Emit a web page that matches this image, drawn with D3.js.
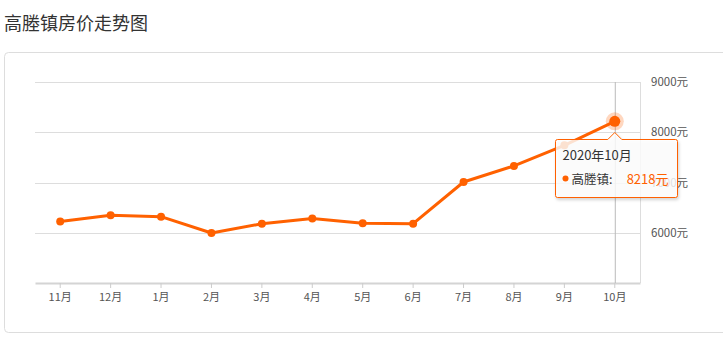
<!DOCTYPE html>
<html><head><meta charset="utf-8">
<script src="https://cdn.jsdelivr.net/npm/d3@7"></script>
<style>
body{margin:0;background:#fff;font-family:"Noto Sans CJK SC","Noto Sans",sans-serif;}
</style></head>
<body><svg id="c" width="723" height="344"></svg>
<script>
const title = "高塍镇房价走势图";
const seriesName = "高塍镇";
const months = ["11月","12月","1月","2月","3月","4月","5月","6月","7月","8月","9月","10月"];
const prices = [6225,6350,6320,5995,6180,6285,6190,6180,7010,7330,7740,8218];
const yTicks = [6000,7000,8000,9000];
const tooltipTitle = "2020年10月";
const hlIndex = 11;

const svg = d3.select("#c");
const orange = "#ff6100";
const fontF = '"Noto Sans CJK SC","Noto Sans",sans-serif';

svg.append("text").attr("x",4).attr("y",30).text(title)
  .attr("font-size",18).attr("fill","#333").attr("font-family",fontF);

svg.append("rect").attr("x",4.5).attr("y",52.5).attr("width",740).attr("height",280)
  .attr("rx",4).attr("fill","none").attr("stroke","#ddd");

const L=35, R=640, T=82, B=283;
const x = d3.scaleBand().domain(months).range([L,R]);
const y = d3.scaleLinear().domain([5000,9000]).range([B,T]);

// grid
svg.append("g").selectAll("line").data(yTicks).join("line")
  .attr("x1",L).attr("x2",R).attr("y1",d=>Math.round(y(d))+0.5).attr("y2",d=>Math.round(y(d))+0.5)
  .attr("stroke","#ddd");
svg.append("line").attr("x1",R+0.5).attr("x2",R+0.5).attr("y1",T).attr("y2",B).attr("stroke","#ddd");

// y labels
svg.append("g").selectAll("text").data(yTicks).join("text")
  .attr("x",651).attr("y",d=>y(d)+4).text(d=>d+"元")
  .attr("font-size",11.5).attr("fill","#555").attr("font-family",fontF);

// x axis
const xa = svg.append("g").attr("transform",`translate(0,${B})`)
  .call(d3.axisBottom(x).tickSize(5).tickSizeOuter(0).tickPadding(5));
xa.select(".domain").attr("stroke","#d4d4d4").attr("stroke-width",2);
xa.selectAll(".tick line").attr("stroke","#ccc");
xa.selectAll(".tick text").attr("font-size",11).attr("fill","#555").attr("font-family",fontF);

const cx = d=>x(d)+x.bandwidth()/2;

// crosshair
svg.append("line").attr("x1",cx(months[hlIndex])+0.5).attr("x2",cx(months[hlIndex])+0.5)
  .attr("y1",T).attr("y2",B).attr("stroke","#bbb");

// line
const data = months.map((m,i)=>({m,v:prices[i]}));
svg.append("path").datum(data)
  .attr("d",d3.line().x(d=>cx(d.m)).y(d=>y(d.v)))
  .attr("fill","none").attr("stroke",orange).attr("stroke-width",3).attr("stroke-linejoin","round");
svg.append("g").selectAll("circle").data(data.filter((d,i)=>i!==hlIndex)).join("circle")
  .attr("cx",d=>cx(d.m)).attr("cy",d=>y(d.v)).attr("r",4).attr("fill",orange);
const hd = data[hlIndex];
svg.append("circle").attr("cx",cx(hd.m)).attr("cy",y(hd.v)).attr("r",9).attr("fill",orange).attr("fill-opacity",0.25);
svg.append("circle").attr("cx",cx(hd.m)).attr("cy",y(hd.v)).attr("r",5.5).attr("fill",orange);

// tooltip
const px = cx(hd.m), py = y(hd.v);
const bx=555.5, by=139.5, bw=122, bh=58;
const defs = svg.append("defs");
const f = defs.append("filter").attr("id","sh").attr("x","-20%").attr("y","-20%").attr("width","140%").attr("height","150%");
f.append("feDropShadow").attr("dx",1).attr("dy",2).attr("stdDeviation",1.5).attr("flood-color","#000").attr("flood-opacity",0.2);
const tp = d3.path();
const r=2;
tp.moveTo(bx+r,by);
tp.lineTo(px-7,by); tp.lineTo(px,by-7); tp.lineTo(px+7,by);
tp.lineTo(bx+bw-r,by); tp.quadraticCurveTo(bx+bw,by,bx+bw,by+r);
tp.lineTo(bx+bw,by+bh-r); tp.quadraticCurveTo(bx+bw,by+bh,bx+bw-r,by+bh);
tp.lineTo(bx+r,by+bh); tp.quadraticCurveTo(bx,by+bh,bx,by+bh-r);
tp.lineTo(bx,by+r); tp.quadraticCurveTo(bx,by,bx+r,by); tp.closePath();
svg.append("path").attr("d",tp.toString()).attr("fill","#fff").attr("fill-opacity",0.8)
  .attr("stroke",orange).attr("stroke-width",1).attr("filter","url(#sh)");
svg.append("text").attr("x",bx+7).attr("y",by+20).text(tooltipTitle)
  .attr("font-size",13).attr("fill","#333").attr("font-family",fontF);
svg.append("circle").attr("cx",bx+10).attr("cy",by+39).attr("r",3).attr("fill",orange);
svg.append("text").attr("x",bx+16).attr("y",by+44).text(seriesName+":")
  .attr("font-size",12.5).attr("fill","#333").attr("font-family",fontF);
svg.append("text").attr("x",bx+bw-9).attr("y",by+44).attr("text-anchor","end").text(hd.v+"元")
  .attr("font-size",13).attr("fill",orange).attr("font-family",fontF);
</script></body></html>
